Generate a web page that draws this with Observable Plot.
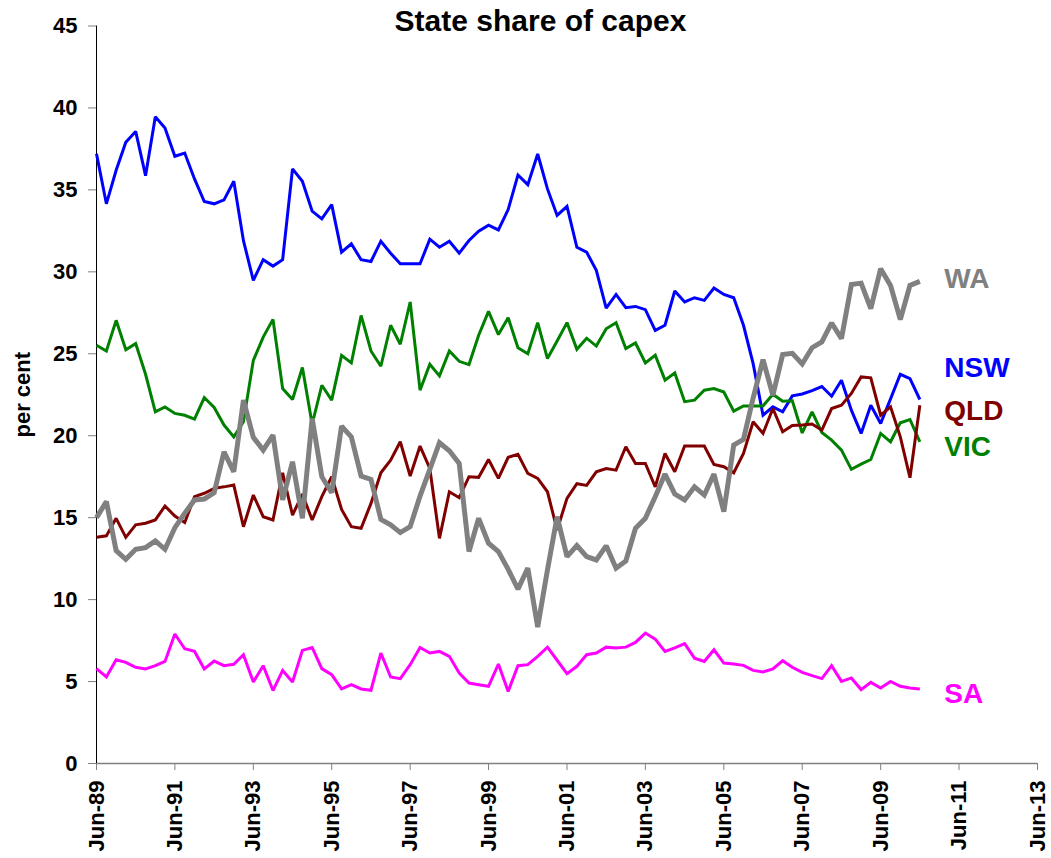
<!DOCTYPE html>
<html>
<head>
<meta charset="utf-8">
<script src="https://cdn.jsdelivr.net/npm/d3@7"></script>
<script src="https://cdn.jsdelivr.net/npm/@observablehq/plot@0.6"></script>
<style>
  html, body { margin: 0; padding: 0; background: #ffffff; }
  #chart svg { display: block; }
</style>
</head>
<body>
<div id="chart"></div>
<script>
const titleText = "State share of capex";
const yAxisLabel = "per cent";
const firstQuarter = "Jun-89";
const xTickLabels = ["Jun-89","Jun-91","Jun-93","Jun-95","Jun-97","Jun-99","Jun-01","Jun-03","Jun-05","Jun-07","Jun-09","Jun-11","Jun-13"];
const yTickValues = [0, 5, 10, 15, 20, 25, 30, 35, 40, 45];

const states = ["NSW", "VIC", "QLD", "SA", "WA"];
const stateColors = ["#0000ff", "#008000", "#800000", "#ff00ff", "#808080"];

const nsw = [37.2,34.15,36.2,37.9,38.57,35.87,39.46,38.77,37.05,37.25,
  35.67,34.29,34.15,34.39,35.53,31.9,29.48,30.74,30.35,30.74,
  36.28,35.53,33.7,33.23,34.1,31.2,31.71,30.74,30.63,31.87,
  31.14,30.49,30.49,30.49,31.99,31.5,31.87,31.14,31.91,32.48,
  32.85,32.56,33.8,35.91,35.32,37.19,35.06,33.44,34.0,31.5,
  31.2,30.09,27.79,28.62,27.81,27.89,27.69,26.43,26.74,28.83,
  28.16,28.42,28.26,29.01,28.62,28.42,26.74,24.4,21.25,21.76,
  21.46,22.43,22.55,22.75,23.0,22.41,23.39,21.56,20.14,21.86,
  20.75,22.25,23.75,23.49,22.21];

const vic = [25.52,25.17,27.04,25.25,25.62,23.75,21.46,21.76,21.36,21.25,
  21.01,22.33,21.72,20.65,19.93,20.85,24.6,26.02,27.1,22.88,
  22.21,24.16,20.7,23.08,22.17,24.9,24.44,27.34,25.17,24.24,
  26.74,25.58,28.16,22.78,24.36,23.65,25.17,24.54,24.34,26.13,
  27.59,26.17,27.2,25.37,25.0,26.9,24.71,25.78,26.9,25.27,
  25.95,25.47,26.53,26.9,25.32,25.66,24.44,24.91,23.39,23.83,
  22.08,22.17,22.78,22.88,22.67,21.5,21.82,21.82,21.82,22.53,
  22.1,22.13,20.17,21.46,20.2,19.73,19.12,17.95,18.27,18.55,
  20.14,19.63,20.79,20.99,19.63];

const qld = [13.8,13.89,14.96,13.8,14.56,14.66,14.86,15.71,15.1,14.7,
  16.28,16.49,16.79,16.88,16.99,14.45,16.38,15.06,14.86,17.74,
  15.16,16.44,14.86,16.28,17.5,15.5,14.45,14.35,15.87,17.74,
  18.51,19.63,17.54,19.37,18.0,13.74,16.58,16.22,17.5,17.46,
  18.55,17.4,18.68,18.86,17.7,17.4,16.58,14.25,16.18,17.07,
  16.97,17.8,18.0,17.9,19.33,18.31,18.31,16.88,18.92,17.8,
  19.37,19.37,19.37,18.25,18.11,17.74,18.92,20.85,20.14,21.66,
  20.24,20.62,20.65,20.71,20.34,21.66,21.86,22.58,23.59,23.53,
  21.25,21.76,19.93,17.44,21.86];

const sa = [5.79,5.28,6.33,6.17,5.87,5.77,5.97,6.23,7.9,7.0,
  6.84,5.77,6.25,5.97,6.05,6.64,4.97,5.97,4.45,5.68,
  4.97,6.9,7.08,5.79,5.42,4.55,4.81,4.55,4.47,6.74,
  5.28,5.18,6.03,7.08,6.74,6.84,6.54,5.52,4.91,4.81,
  4.71,6.07,4.4,5.97,6.03,6.54,7.1,6.3,5.48,5.93,
  6.64,6.74,7.1,7.05,7.1,7.39,7.96,7.59,6.84,7.05,
  7.31,6.43,6.23,6.94,6.13,6.07,5.99,5.68,5.58,5.77,
  6.27,5.87,5.56,5.36,5.18,5.97,5.01,5.22,4.51,4.95,
  4.61,5.01,4.71,4.61,4.55];

const wa = [15.0,15.98,12.99,12.46,13.07,13.17,13.58,13.07,14.39,15.27,
  16.08,16.14,16.52,19.02,17.8,22.17,19.9,19.12,20.04,16.08,
  18.41,14.96,21.05,17.5,16.52,20.58,19.93,17.54,17.34,14.9,
  14.56,14.09,14.45,16.32,17.94,19.57,19.08,18.31,12.93,14.96,
  13.44,12.93,11.85,10.64,11.92,8.33,11.81,15.06,12.62,13.3,
  12.62,12.42,13.28,11.92,12.36,14.35,14.96,16.28,17.66,16.44,
  16.08,16.88,16.38,17.66,15.37,19.43,19.78,22.3,24.64,22.47,
  24.95,25.03,24.38,25.37,25.72,26.88,25.93,29.23,29.31,27.75,
  30.19,29.17,27.08,29.17,29.42];

const seriesValues = [nsw, vic, qld, sa, wa];

// ---- build table ----
const parseQ = d3.utcParse("%b-%y");
const startDate = parseQ(firstQuarter);
const rows = [];
states.forEach((s, k) => {
  seriesValues[k].forEach((v, i) => {
    rows.push({state: s, date: d3.utcMonth.offset(startDate, 3 * i), value: v});
  });
});
const xTickDates = xTickLabels.map(parseQ);

// ---- layout (label anchors) ----
const labelDate = d3.utcParse("%Y-%m-%d")("2011-01-15");
const labelY = {WA: 29.57, NSW: 24.16, QLD: 21.52, VIC: 19.28, SA: 4.21};
const labels = states.map((s, k) => ({state: s, color: stateColors[k], y: labelY[s]}));

const widths = {NSW: 3, VIC: 3, QLD: 3, SA: 3, WA: 5};
const drawOrder = ["NSW", "VIC", "QLD", "SA", "WA"];

const marks = [
  Plot.axisY({ticks: yTickValues, tickSize: 8, stroke: "#808080", fill: "none", label: null}),
  Plot.axisY({ticks: yTickValues, tickSize: 0, tickPadding: 19, fontSize: 22, fontWeight: "bold", fill: "black", label: null}),
  Plot.axisX({ticks: xTickDates, tickSize: 7, stroke: "#808080", fill: "none", label: null}),
  Plot.axisX({ticks: xTickDates, tickSize: 0, tickPadding: 17, tickRotate: -90, fontSize: 22, fontWeight: "bold", fill: "black", tickFormat: d3.utcFormat("%b-%y"), label: null}),
  Plot.ruleY([0], {stroke: "#808080", strokeWidth: 1.5}),
  Plot.ruleX([startDate], {stroke: "black", strokeWidth: 1})
];
drawOrder.forEach(s => {
  const k = states.indexOf(s);
  marks.push(Plot.line(rows.filter(r => r.state === s), {
    x: "date", y: "value", stroke: stateColors[k], strokeWidth: widths[s],
    strokeLinejoin: "miter", strokeMiterlimit: 2, strokeLinecap: "butt"
  }));
});
marks.push(Plot.text(labels, {
  x: () => labelDate, y: "y", text: "state", fill: "color",
  textAnchor: "start", lineAnchor: "middle", fontSize: 28, fontWeight: "bold"
}));
marks.push(Plot.text([titleText], {
  frameAnchor: "top", textAnchor: "middle", lineAnchor: "middle",
  dx: -26.5, dy: -4.4, fontSize: 30, fontWeight: "bold", fill: "black"
}));
marks.push(Plot.text([yAxisLabel], {
  frameAnchor: "left", textAnchor: "middle", lineAnchor: "middle", rotate: -90,
  dx: -73.5, fontSize: 22, fontWeight: "bold", fill: "black"
}));

const chart = Plot.plot({
  width: 1051,
  height: 858,
  marginLeft: 96,
  marginRight: 14,
  marginTop: 25.5,
  marginBottom: 95,
  style: {fontFamily: "'Liberation Sans', Arial, sans-serif", background: "#ffffff", color: "black", overflow: "visible"},
  x: {type: "utc", domain: [xTickDates[0], xTickDates[xTickDates.length - 1]]},
  y: {domain: [0, 45]},
  marks
});
document.getElementById("chart").appendChild(chart);
</script>
</body>
</html>
